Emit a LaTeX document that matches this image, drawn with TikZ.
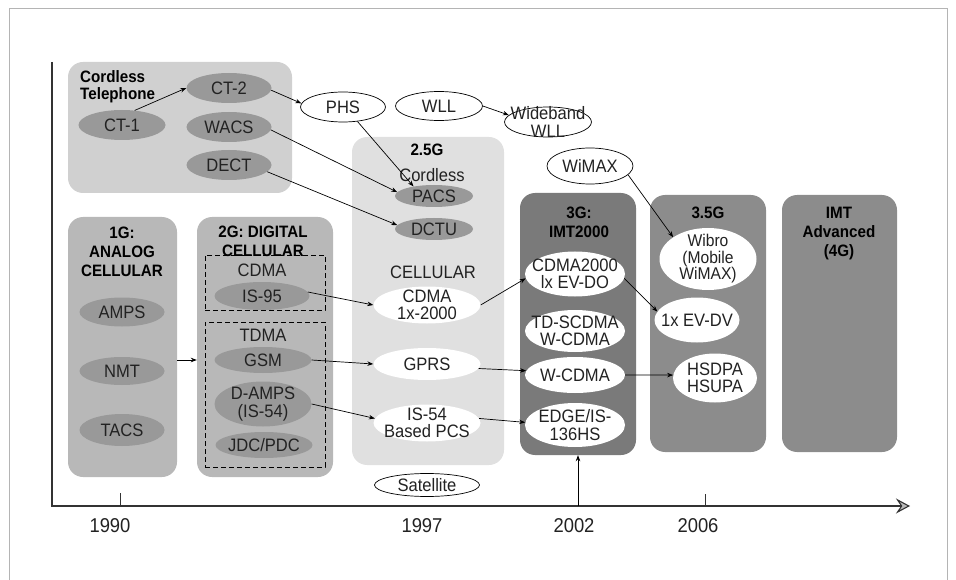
\documentclass[tikz,border=0pt]{standalone}
\usepackage{fontspec}
\setmainfont{Liberation Sans}[FakeStretch=0.92]
\usetikzlibrary{arrows.meta,shapes.geometric,calc}
\definecolor{framec}{HTML}{B4B4B4}
\definecolor{cordfill}{HTML}{D0D0D0}
\definecolor{gonefill}{HTML}{B8B8B8}
\definecolor{gtwofivefill}{HTML}{E0E0E0}
\definecolor{gthreefill}{HTML}{7A7A7A}
\definecolor{gfourfill}{HTML}{8C8C8C}
\definecolor{darkell}{HTML}{999999}
\definecolor{txt}{HTML}{222222}
\definecolor{axisc}{HTML}{333333}
\begin{document}
\begin{tikzpicture}[x=1pt,y=-1pt,
  reg/.style={font=\fontsize{18}{17.5}\selectfont, text=txt, align=center, inner sep=0pt},
  yr/.style={font=\fontsize{20}{20}\selectfont, text=txt, inner sep=0pt},
  bld/.style={font=\fontsize{16.5}{19}\selectfont\bfseries, text=black, align=center, inner sep=0pt},
  gbox/.style={rectangle, rounded corners=15pt, draw=none, inner sep=0pt},
  dbox/.style={rectangle, draw=black, dashed, dash pattern=on 5pt off 3pt, line width=0.6pt, inner sep=0pt},
  del/.style={ellipse, fill=darkell, inner sep=0pt},
  wel/.style={ellipse, fill=white, draw=black, line width=0.7pt, inner sep=0pt},
  wfl/.style={ellipse, fill=white, inner sep=0pt},
  arr/.style={-{Stealth[length=6pt,width=4.5pt]}, line width=0.7pt},
  axisline/.style={draw=axisc, line width=1.1pt},
]
\useasboundingbox (0,0) rectangle (956,580);
% outer frame
\draw[framec, line width=0.8pt] (9,580) -- (9,8) -- (947,8) -- (947,580);

% group boxes
\node[gbox, fill=cordfill, minimum width=224pt, minimum height=131pt] (cord) at (180,127.5) {};
\node[gbox, fill=gonefill, minimum width=109pt, minimum height=260pt] (g1) at (122.5,347) {};
\node[gbox, fill=gonefill, minimum width=136pt, minimum height=260pt] (g2) at (265,347) {};
\node[gbox, fill=gtwofivefill, minimum width=152pt, minimum height=328pt] (g25) at (428,301) {};
\node[gbox, fill=gthreefill, minimum width=116pt, minimum height=262pt] (g3) at (578,324) {};
\node[gbox, fill=gfourfill, minimum width=116pt, minimum height=257pt] (g35) at (708,323.5) {};
\node[gbox, fill=gfourfill, minimum width=115pt, minimum height=257pt] (g4) at (839.5,323.5) {};
\node[dbox, minimum width=120pt, minimum height=55pt] (cdmab) at (265,282.5) {};
\node[dbox, minimum width=120pt, minimum height=145pt] (tdmab) at (265,394.5) {};

% titles
\node[bld, align=left, anchor=north west, font=\fontsize{16.5}{17.6}\selectfont\bfseries] (cordt) at (80,70) {Cordless\\Telephone};
\node[bld, anchor=north] (g1t) at (122,227) {1G:\\ANALOG\\CELLULAR};
\node[bld, anchor=north] (g2t) at (263,226) {2G: DIGITAL\\CELLULAR};
\node[bld, anchor=north] (g25t) at (427,144) {2.5G};
\node[reg, anchor=north] (g25c) at (432,168) {Cordless};
\node[reg, anchor=north] (g25cell) at (433,266) {CELLULAR};
\node[reg, anchor=north] (cdmat) at (262,264) {CDMA};
\node[reg, anchor=north] (tdmat) at (263,329) {TDMA};
\node[bld, anchor=north] (g3t) at (579,207) {3G:\\IMT2000};
\node[bld, anchor=north] (g35t) at (708,207) {3.5G};
\node[bld, anchor=north] (g4t) at (839,207) {IMT\\Advanced\\(4G)};

% cordless
\node[del, minimum width=87pt, minimum height=30pt, label={[reg]center:CT-1}] (ct1) at (122,125) {};
\node[del, minimum width=85pt, minimum height=30pt, label={[reg]center:CT-2}] (ct2) at (229,88) {};
\node[del, minimum width=85pt, minimum height=30pt, label={[reg]center:WACS}] (wacs) at (229,127) {};
\node[del, minimum width=85pt, minimum height=30pt, label={[reg]center:DECT}] (dect) at (229,165) {};
% top row white ellipses
\node[wel, minimum width=85pt, minimum height=30pt, label={[reg]center:PHS}] (phs) at (343,107) {};
\node[wel, minimum width=87pt, minimum height=29pt, label={[reg]center:WLL}] (wll) at (439,106) {};
\node[wel, minimum width=87pt, minimum height=30pt, label={[reg]center:{Wideband\\WLL}}] (wb) at (548,122) {};
\node[wel, minimum width=86pt, minimum height=36pt, label={[reg]center:WiMAX}] (wimax) at (590,166) {};
% 2.5G
\node[del, minimum width=78pt, minimum height=22pt, label={[reg]center:PACS}] (pacs) at (434,196) {};
\node[del, minimum width=78pt, minimum height=22pt, label={[reg]center:DCTU}] (dctu) at (434,229) {};
\node[wfl, minimum width=107pt, minimum height=37pt, label={[reg]center:{CDMA\\1x-2000}}] (c1x) at (427,305) {};
\node[wfl, minimum width=107pt, minimum height=32pt, label={[reg]center:GPRS}] (gprs) at (427,364) {};
\node[wfl, minimum width=107pt, minimum height=37pt, label={[reg]center:{IS-54\\Based PCS}}] (is54) at (427,423) {};
\node[wel, minimum width=105pt, minimum height=23pt, label={[reg]center:Satellite}] (sat) at (427,485) {};
% 1G
\node[del, minimum width=85pt, minimum height=29pt, label={[reg]center:AMPS}] (amps) at (122,312) {};
\node[del, minimum width=85pt, minimum height=28pt, label={[reg]center:NMT}] (nmt) at (122,371) {};
\node[del, minimum width=85pt, minimum height=32pt, label={[reg]center:TACS}] (tacs) at (122,430) {};
% 2G
\node[del, minimum width=95pt, minimum height=28pt, label={[reg]center:IS-95}] (is95) at (262,296) {};
\node[del, minimum width=97pt, minimum height=26pt, label={[reg]center:GSM}] (gsm) at (263,360) {};
\node[del, minimum width=97pt, minimum height=45pt, label={[reg]center:{D-AMPS\\(IS-54)}}] (damps) at (263,404) {};
\node[del, minimum width=97pt, minimum height=26pt, label={[reg]center:JDC/PDC}] (jdc) at (264,445) {};
% 3G
\node[wfl, minimum width=100pt, minimum height=45pt, label={[reg]center:{CDMA2000\\lx EV-DO}}] (c2k) at (575,274) {};
\node[wfl, minimum width=100pt, minimum height=42pt, label={[reg]center:{TD-SCDMA\\W-CDMA}}] (tds) at (575,331) {};
\node[wfl, minimum width=100pt, minimum height=36pt, label={[reg]center:W-CDMA}] (wcdma) at (575,375) {};
\node[wfl, minimum width=100pt, minimum height=44pt, label={[reg]center:{EDGE/IS-\\136HS}}] (edge) at (575,425) {};
% 3.5G
\node[wfl, minimum width=97pt, minimum height=62pt, label={[reg, font=\fontsize{17}{16.5}\selectfont]center:{Wibro\\(Mobile\\WiMAX)}}] (wibro) at (708,259) {};
\node[wfl, minimum width=85pt, minimum height=45pt, label={[reg]center:1x EV-DV}] (evdv) at (697,320) {};
\node[wfl, minimum width=84pt, minimum height=49pt, label={[reg]center:{HSDPA\\HSUPA}}] (hsdpa) at (715,378) {};

% axes
\coordinate (ytop) at (52,62);
\coordinate (orig) at (52,506);
\coordinate (xend) at (910,506);
\draw[axisline, -{Stealth[length=14pt,width=15pt,inset=5pt,fill=gray!55]}] (ytop) -- (orig) -- (xend);
\coordinate (k90) at (120,506);
\coordinate (k90t) at (120,493);
\coordinate (k06) at (705,506);
\coordinate (k06t) at (705,494);
\coordinate (k02) at (578,506);
\draw[axisc, line width=0.6pt] (k90) -- (k90t);
\draw[axisc, line width=0.6pt] (k06) -- (k06t);
\node[yr] (y90) at (110,526) {1990};
\node[yr] (y97) at (422,526) {1997};
\node[yr] (y02) at (574,526) {2002};
\node[yr] (y06) at (698,526) {2006};

% connectors
\draw[arr] (ct1.49) -- (ct2.west);
\draw[arr] (ct2.-3) -- (phs.175);
\draw[arr] (wacs.-4) -- (pacs.174);
\draw[arr] (dect.-10) -- (dctu.174);
\draw[arr] (phs.-45) -- (pacs.155);
\draw[arr] (wll.east) -- (wb.170);
\draw[arr] (wimax.-13) -- (wibro.148);
\draw[arr] (g1.east |- gsm) -- (g2.west |- gsm);
\draw[arr] (is95.5) -- (c1x.west);
\draw[arr] (gsm.east) -- (gprs.west);
\draw[arr] (damps.east) -- (is54.175);
\draw[arr] (c1x.east) -- (c2k.185);
\draw[arr] (gprs.-5) -- (wcdma.175);
\draw[arr] (is54.5) -- (edge.177);
\draw[arr] (c2k.-5) -- (evdv.168);
\draw[arr] (wcdma.east) -- (hsdpa.176);
\draw[arr] (k02) -- (g3.south);
\end{tikzpicture}
\end{document}
